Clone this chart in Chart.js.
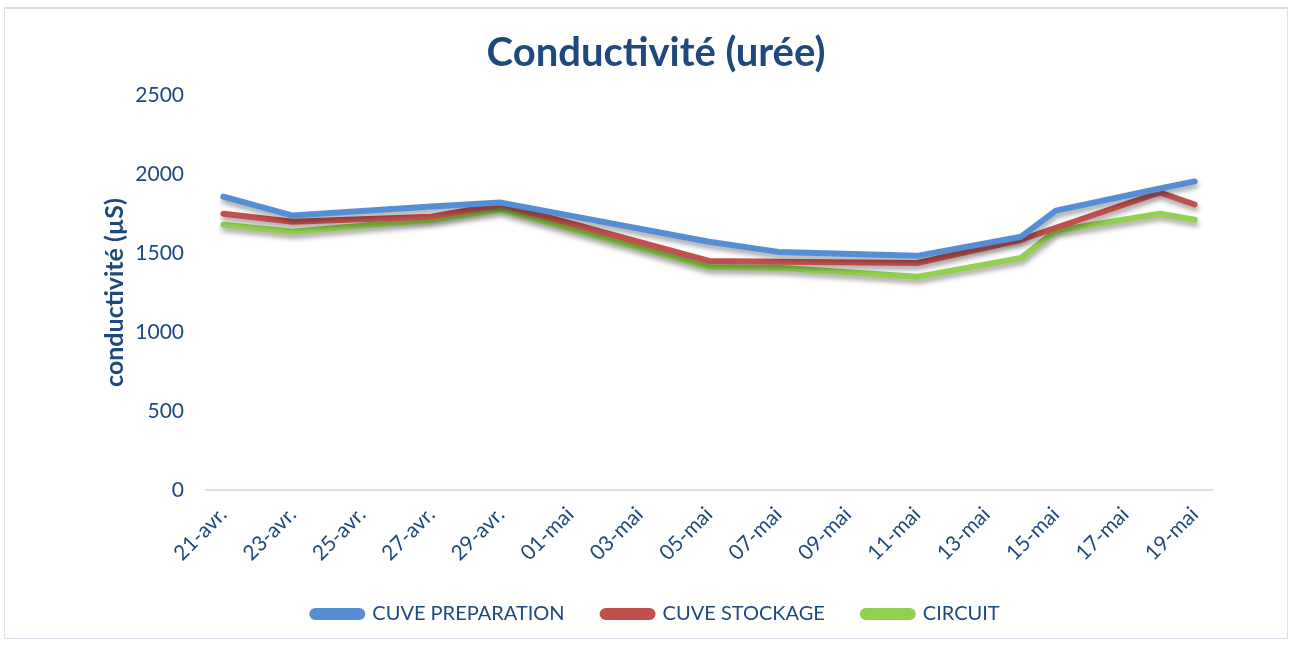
<!DOCTYPE html>
<html>
<head>
<meta charset="utf-8">
<script src="https://cdn.jsdelivr.net/npm/chart.js@4.4.0/dist/chart.umd.min.js"></script>
<style>
  html, body { margin: 0; padding: 0; background: #fff; }
  #wrap { position: relative; width: 1293px; height: 646px; }
  #frame { position: absolute; left: 4px; top: 7px; width: 1284px; height: 632px; border: 1px solid #dbe3ee; border-top: 2px solid #d6e0ec; box-sizing: border-box; }
  canvas { position: absolute; left: 0; top: 0; }
</style>
</head>
<body>
<div id="wrap">
  <div id="frame"></div>
  <canvas id="chart" width="1293" height="646"></canvas>
</div>
<script>
// every day on the axis, only every other one gets a label
const days = [
  '21-avr.', '22-avr.', '23-avr.', '24-avr.', '25-avr.', '26-avr.', '27-avr.', '28-avr.', '29-avr.', '30-avr.',
  '01-mai', '02-mai', '03-mai', '04-mai', '05-mai', '06-mai', '07-mai', '08-mai', '09-mai', '10-mai',
  '11-mai', '12-mai', '13-mai', '14-mai', '15-mai', '16-mai', '17-mai', '18-mai', '19-mai'
];

// days on which a measure was taken
const measureDays = ['21-avr.', '23-avr.', '27-avr.', '29-avr.', '05-mai', '07-mai', '11-mai', '14-mai', '15-mai', '18-mai', '19-mai'];

const cuvePreparation = [1857, 1737, 1794, 1819, 1571, 1507, 1482, 1603, 1768, 1908, 1953];
const cuveStockage    = [1749, 1698, 1730, 1807, 1450, 1444, 1437, 1584, 1660, 1883, 1807];
const circuit         = [1679, 1635, 1711, 1775, 1412, 1406, 1349, 1469, 1641, 1749, 1711];

const yTicks = [0, 500, 1000, 1500, 2000, 2500];

const navy = '#1f497d';
const font = 'Lato';

const toPoints = (values) => values.map((v, i) => ({ x: measureDays[i], y: v }));

const makeSet = (label, values, color) => ({
  label,
  data: toPoints(values),
  borderColor: color,
  backgroundColor: color,
  borderWidth: 6,
  pointRadius: 0,
  pointHoverRadius: 0,
  tension: 0,
  borderCapStyle: 'round',
  borderJoinStyle: 'round',
});

// soft drop shadow under the lines, like the office chart
const lineShadow = {
  id: 'lineShadow',
  beforeDatasetDraw(chart) {
    const ctx = chart.ctx;
    ctx.save();
    ctx.shadowColor = 'rgba(0, 0, 0, 0.35)';
    ctx.shadowBlur = 5;
    ctx.shadowOffsetX = 1;
    ctx.shadowOffsetY = 4;
  },
  afterDatasetDraw(chart) {
    chart.ctx.restore();
  },
};

new Chart(document.getElementById('chart').getContext('2d'), {
  type: 'line',
  data: {
    labels: days,
    datasets: [
      makeSet('CUVE PREPARATION', cuvePreparation, '#558ed5'),
      makeSet('CUVE STOCKAGE', cuveStockage, '#c0504d'),
      makeSet('CIRCUIT', circuit, '#92d050'),
    ],
  },
  options: {
    responsive: false,
    animation: false,
    layout: {
      padding: { left: 100, right: 81, top: 17, bottom: 12 },
    },
    plugins: {
      title: {
        display: true,
        text: 'Conductivité (urée)',
        color: navy,
        font: { family: font, size: 40, weight: 'bold' },
        padding: { top: 12, bottom: 18 },
      },
      legend: {
        position: 'bottom',
        labels: {
          color: navy,
          font: { family: font, size: 20 },
          boxWidth: 50,
          boxHeight: 6,
          useBorderRadius: true,
          borderRadius: 3,
          padding: 38,
        },
      },
      tooltip: { enabled: false },
    },
    scales: {
      x: {
        type: 'category',
        offset: true,
        afterFit: (scale) => { scale.height = 76; },
        grid: { display: false },
        border: { display: true, color: '#d6e0ee', width: 2 },
        ticks: {
          autoSkip: false,
          minRotation: 45,
          maxRotation: 45,
          color: navy,
          font: { family: font, size: 21 },
          padding: 4,
          callback: (value, index) => (index % 2 === 0 ? days[index] : ''),
        },
      },
      y: {
        min: yTicks[0],
        max: yTicks[yTicks.length - 1],
        afterFit: (scale) => { scale.width = 106; },
        afterBuildTicks: (scale) => { scale.ticks = yTicks.map(v => ({ value: v })); },
        grid: { display: false },
        border: { display: false },
        ticks: {
          color: navy,
          font: { family: font, size: 21 },
          padding: 14,
          callback: (value) => String(value),
        },
        title: {
          display: true,
          text: 'conductivité (µS)',
          color: navy,
          font: { family: font, size: 25, weight: 'bold' },
          padding: { top: 0, bottom: 0 },
        },
      },
    },
  },
  plugins: [lineShadow],
});
</script>
</body>
</html>
